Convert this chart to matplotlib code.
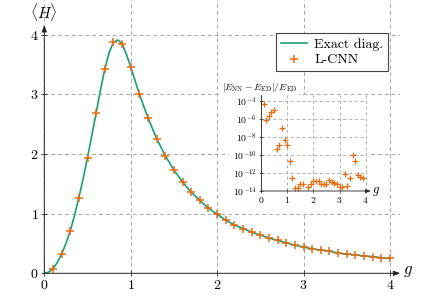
import numpy as np
import matplotlib
matplotlib.use("Agg")
import matplotlib.pyplot as plt
from matplotlib.patches import Rectangle

plt.rcParams["font.family"] = "serif"
plt.rcParams["font.serif"] = ["cmr10", "DejaVu Serif"]
plt.rcParams["mathtext.fontset"] = "cm"
plt.rcParams["axes.unicode_minus"] = False
plt.rcParams["axes.formatter.use_mathtext"] = True

# exact diagonalisation curve
g_exact = [0.0, 0.05, 0.1, 0.15, 0.2, 0.25, 0.3, 0.35, 0.4, 0.45, 0.5, 0.55, 0.6, 0.65,
           0.7, 0.75, 0.8, 0.85, 0.9, 0.95, 1.0, 1.05, 1.1, 1.15, 1.2, 1.25, 1.3, 1.4,
           1.5, 1.6, 1.7, 1.8, 1.9, 2.0, 2.1, 2.2, 2.3, 2.4, 2.5, 2.6, 2.7, 2.8, 2.9,
           3.0, 3.1, 3.2, 3.3, 3.4, 3.5, 3.6, 3.7, 3.8, 3.9, 4.0]
h_exact = [0.0, 0.02, 0.08, 0.18, 0.32, 0.50, 0.71, 0.97, 1.27, 1.59, 1.94, 2.31, 2.69, 3.07,
           3.42, 3.70, 3.87, 3.91, 3.85, 3.67, 3.46, 3.23, 3.01, 2.80, 2.61, 2.43, 2.26, 1.97,
           1.73, 1.53, 1.36, 1.22, 1.09, 0.99, 0.89, 0.81, 0.75, 0.69, 0.64, 0.59, 0.55, 0.51, 0.47,
           0.44, 0.41, 0.39, 0.37, 0.34, 0.32, 0.31, 0.29, 0.28, 0.26, 0.25]

# L-CNN points
g_nn = [0.1, 0.2, 0.3, 0.4, 0.5, 0.6, 0.7, 0.8, 0.9, 1.0, 1.1, 1.2, 1.3, 1.4, 1.5, 1.6, 1.7,
        1.8, 1.9, 2.0, 2.1, 2.2, 2.3, 2.4, 2.5, 2.6, 2.7, 2.8, 2.9, 3.0, 3.1, 3.2, 3.3, 3.4,
        3.5, 3.6, 3.7, 3.8, 3.9, 4.0]
h_nn = [0.08, 0.32, 0.71, 1.27, 1.94, 2.69, 3.42, 3.87, 3.85, 3.46, 3.01, 2.61, 2.25, 1.97,
        1.73, 1.53, 1.36, 1.22, 1.09, 0.99, 0.89, 0.81, 0.75, 0.69, 0.64, 0.59, 0.55, 0.51,
        0.47, 0.44, 0.41, 0.39, 0.37, 0.34, 0.32, 0.31, 0.29, 0.28, 0.26, 0.25]

# relative error (log10) for the inset
g_err = [0.1, 0.2, 0.3, 0.4, 0.5, 0.6, 0.7, 0.8, 0.9, 1.0, 1.1, 1.2, 1.3, 1.4, 1.5, 1.6,
         1.8, 1.9, 2.0, 2.1, 2.2, 2.3, 2.4, 2.5, 2.6, 2.7, 2.8, 2.9, 3.0, 3.1, 3.2, 3.3,
         3.4, 3.5, 3.6, 3.7, 3.8, 3.9]
log_err = [-4.4, -6.1, -5.7, -5.2, -5.0, -9.35, -8.95, -7.0, -8.3, -8.95, -10.7, -12.53,
           -13.63, -13.63, -13.26, -13.19, -13.56, -13.26, -12.89, -12.89, -12.89, -13.26,
           -13.26, -13.19, -12.81, -13.04, -13.15, -13.26, -13.56, -13.56, -12.15, -13.48,
           -12.53, -10.05, -10.7, -12.23, -12.45, -12.53]

green = "#1b9e77"
orange = "#e66a10"
gridc = "#a8a8a8"
dash = (0, (4, 3))

fig = plt.figure(figsize=(4.35, 2.96), dpi=100)

# main axes
ax = fig.add_axes([44.3 / 435, 22.7 / 296, 356 / 435, 273.3 / 296])
ax.set_xlim(0, 4.12)
ax.set_ylim(0, 4.58)
for s in ax.spines.values():
    s.set_visible(False)
ax.set_xticks([0, 1, 2, 3, 4])
ax.set_yticks([0, 1, 2, 3, 4])
ax.set_xticklabels([f"${t}$" for t in range(5)], fontsize=10)
ax.set_yticklabels([f"${t}$" for t in range(5)], fontsize=10)
ax.tick_params(direction="inout", length=4, width=0.6, color="#333333", pad=2)
ax.grid(True, color=gridc, linestyle=dash, linewidth=0.7)
ax.set_axisbelow(True)

ax.plot(g_exact, h_exact, color=green, linewidth=1.2, label="Exact diag.", zorder=3)
ax.plot(g_nn, h_nn, linestyle="none", marker="+", markersize=6, markeredgewidth=1.1,
        color=orange, label="L-CNN", zorder=4, clip_on=False)

arrow = dict(arrowstyle="-|>,head_length=0.4,head_width=0.15", color="#222222", lw=0.7,
             shrinkA=0, shrinkB=0)
ax.annotate("", xy=(4.12, 0), xytext=(0, 0), arrowprops=arrow, annotation_clip=False)
ax.annotate("", xy=(0, 4.16), xytext=(0, 0), arrowprops=arrow, annotation_clip=False)
ax.text(4.15, 0.04, "$g$", fontsize=12, ha="left", va="center")
ax.text(0, 4.38, r"$\langle H\rangle$", fontsize=11, ha="center", va="center")

leg = ax.legend(loc="upper right", bbox_to_anchor=(388.3 / 435, (296 - 33.3) / 296),
                bbox_transform=fig.transFigure, fontsize=10, frameon=True, fancybox=False,
                framealpha=1, edgecolor="#444444", handlelength=1.9, handletextpad=0.5,
                borderpad=0.35, labelspacing=0.2, borderaxespad=0)
leg.get_frame().set_linewidth(0.8)

# white patch behind the inset and its labels
fig.patches.append(Rectangle((229 / 435, 84 / 296), 142 / 435, 117 / 296,
                             transform=fig.transFigure, facecolor="white",
                             edgecolor="none", zorder=1))

# inset
ins = fig.add_axes([261 / 435, 105 / 296, 106 / 435, 96 / 296])
ins.set_zorder(2)
ins.set_xlim(0, 4.05)
ins.set_yscale("log")
ins.set_ylim(1e-14, 10 ** -3.37)
for s in ins.spines.values():
    s.set_visible(False)
ins.patch.set_alpha(0)
ins.set_xticks([0, 1, 2, 3, 4])
ins.set_xticklabels([f"${t}$" for t in range(5)], fontsize=7)
yt = [-14, -12, -10, -8, -6, -4]
ins.set_yticks([10.0 ** e for e in yt])
ins.set_yticklabels([f"$10^{{{e}}}$" for e in yt], fontsize=7)
ins.minorticks_off()
ins.tick_params(direction="inout", length=3, width=0.5, color="#333333", pad=1.5)
ins.grid(True, color=gridc, linestyle=dash, linewidth=0.6)
ins.set_axisbelow(True)
ins.plot(g_err, [10.0 ** v for v in log_err], linestyle="none", marker="+", markersize=4,
         markeredgewidth=0.9, color=orange, clip_on=False)
arrow_s = dict(arrowstyle="-|>,head_length=0.3,head_width=0.1", color="#222222", lw=0.6,
               shrinkA=0, shrinkB=0)
ins.annotate("", xy=(4.2, 1e-14), xytext=(0, 1e-14), arrowprops=arrow_s, annotation_clip=False)
ins.plot([0, 0], [1e-14, 10 ** -3.37], color="#222222", lw=0.6, clip_on=False)
ins.text(4.4, 1e-14, "$g$", fontsize=9, ha="center", va="center")

fig.text(222 / 435, (296 - 87) / 296, r"$|E_{\mathrm{NN}}-E_{\mathrm{ED}}|/E_{\mathrm{ED}}$",
         fontsize=7, ha="left", va="center", zorder=5,
         bbox=dict(facecolor="white", edgecolor="none", pad=1.0))

fig.savefig("out.png", dpi=100)
